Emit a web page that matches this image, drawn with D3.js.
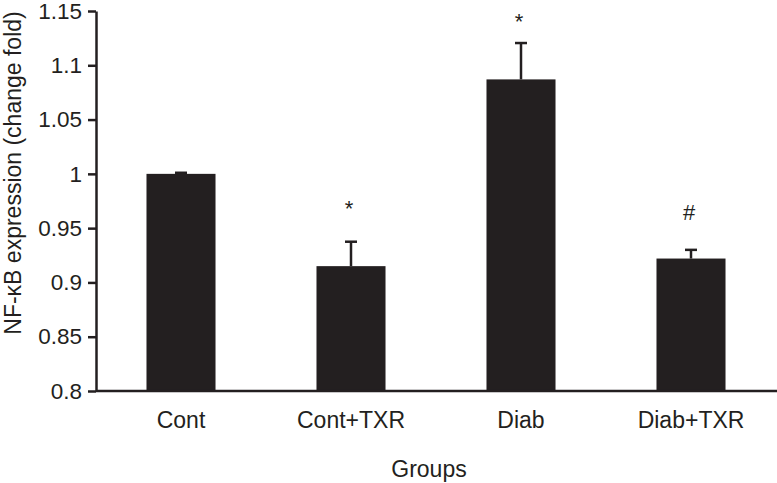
<!DOCTYPE html>
<html><head><meta charset="utf-8">
<script src="https://cdn.jsdelivr.net/npm/d3@7"></script>
<style>body{margin:0;background:#fff}svg{display:block}text{font-family:"Liberation Sans",Arial,sans-serif;fill:#231f20}</style>
</head><body>
<svg id="c" width="777" height="483"></svg>
<script>
const categories = ["Cont", "Cont+TXR", "Diab", "Diab+TXR"];
const values = [1.0, 0.915, 1.087, 0.922];
const errors = [0.001, 0.0225, 0.0335, 0.008];
const marks = ["", "*", "*", "#"];
const markLevels = [null, 0.961, 1.133, 0.9575];
const yTicks = [0.8, 0.85, 0.9, 0.95, 1, 1.05, 1.1, 1.15];

const ink = "#231f20";
const fontFam = "Liberation Sans, Arial, sans-serif";
const svg = d3.select("#c");
const x = d3.scaleBand().domain(categories).range([96, 776]).paddingInner(0.594).paddingOuter(0.297);
const y = d3.scaleLinear().domain([0.8, 1.15]).range([391, 11]);

// bars
svg.selectAll("rect.bar").data(categories).join("rect")
  .attr("x", d => x(d)).attr("width", x.bandwidth())
  .attr("y", (d, i) => y(values[i])).attr("height", (d, i) => y(0.8) - y(values[i]))
  .attr("fill", ink);

// error bars
const eg = svg.selectAll("g.err").data(categories).join("g");
eg.append("line")
  .attr("x1", d => x(d) + x.bandwidth() / 2).attr("x2", d => x(d) + x.bandwidth() / 2)
  .attr("y1", (d, i) => y(values[i])).attr("y2", (d, i) => y(values[i] + errors[i]))
  .attr("stroke", ink).attr("stroke-width", 2.5);
eg.append("line")
  .attr("x1", d => x(d) + x.bandwidth() / 2 - 6).attr("x2", d => x(d) + x.bandwidth() / 2 + 6)
  .attr("y1", (d, i) => y(values[i] + errors[i])).attr("y2", (d, i) => y(values[i] + errors[i]))
  .attr("stroke", ink).attr("stroke-width", 2.5);

// significance marks
svg.selectAll("text.mark").data(categories.filter((d, i) => marks[i])).join("text")
  .attr("x", d => x(d) + x.bandwidth() / 2 - 2)
  .attr("y", d => y(markLevels[categories.indexOf(d)]))
  .attr("text-anchor", "middle").attr("font-size", 22)
  .text(d => marks[categories.indexOf(d)]);

// y axis
const yAxis = svg.append("g").attr("transform", "translate(96,0)")
  .call(d3.axisLeft(y).tickValues(yTicks).tickSize(8).tickSizeOuter(0).tickPadding(6).tickFormat(d => String(+d.toFixed(2))));
yAxis.select(".domain").attr("stroke", ink).attr("stroke-width", 2.5);
yAxis.selectAll(".tick line").attr("stroke", ink).attr("stroke-width", 2.5);
yAxis.selectAll(".tick text").attr("font-size", 22.5).attr("fill", ink).attr("font-family", fontFam);

// x axis
const xAxis = svg.append("g").attr("transform", "translate(0,391)")
  .call(d3.axisBottom(x).tickSize(0).tickPadding(21));
xAxis.select(".domain").attr("d", "M96,0H777").attr("stroke", ink).attr("stroke-width", 2.5);
xAxis.selectAll(".tick text").attr("font-size", 23).attr("fill", ink).attr("font-family", fontFam);

// titles
svg.append("text").attr("x", 429).attr("y", 477).attr("text-anchor", "middle").attr("font-size", 23).text("Groups");
svg.append("text").attr("transform", "translate(21,173) rotate(-90)").attr("text-anchor", "middle").attr("font-size", 23).text("NF-κB expression (change fold)");
</script>
</body></html>
